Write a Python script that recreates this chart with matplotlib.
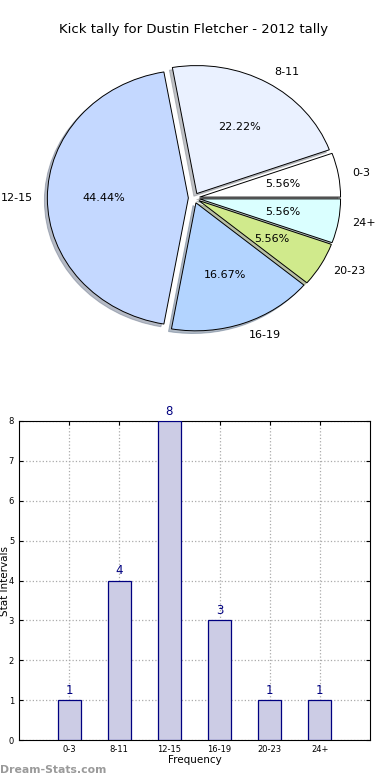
import matplotlib
matplotlib.use("Agg")
import matplotlib.pyplot as plt

#Data
categories = ["0-3", "8-11", "12-15", "16-19", "20-23", "24+"]
counts = [1, 4, 8, 3, 1, 1]
slice_colors = ["#FFFFFF", "#EAF1FF", "#C4D8FF", "#B3D4FF", "#D0EA8C", "#DAFFFF"]
explode = [0.04, 0.04, 0.04, 0.04, 0.04, 0.04]

title = "Kick tally for Dustin Fletcher - 2012 tally"

W, H = 390, 780
fig = plt.figure(figsize=(W / 100, H / 100), dpi=100)

### PIE SEGMENT

#The reference pie is slightly squashed: x radius ~141 px, y radius ~128 px
rx, ry = 141, 128
cx, cy = 194, 198
pie_ax = fig.add_axes([(cx - 1.25 * rx) / W, 1 - (cy + 1.25 * ry) / H, 2.5 * rx / W, 2.5 * ry / H])
pie_ax.pie(
    counts,
    labels=categories,
    colors=slice_colors,
    explode=explode,
    autopct="%.2f%%",
    shadow={"ox": -0.015, "oy": -0.015, "shade": 0.45},
    startangle=0,
    wedgeprops={"edgecolor": "black", "linewidth": 0.7},
    textprops={"fontsize": 8},
)
pie_ax.set_aspect("auto")
pie_ax.set_xlim(-1.25, 1.25)
pie_ax.set_ylim(-1.25, 1.25)

fig.text(194 / W, 1 - 30 / H, title, ha="center", va="center", fontsize=9.5)

### BAR SEGMENT

bar_ax = fig.add_axes([19 / W, 40 / H, 351 / W, 319 / H])
x = list(range(len(categories)))
bar_ax.bar(x, counts, width=0.46, color="#CCCCE5", edgecolor="#000080", linewidth=0.9, zorder=3)

for xi, c in zip(x, counts):
    bar_ax.text(xi, c + 0.08, str(c), ha="center", va="bottom", color="#000080", fontsize=8.5)

bar_ax.set_xlim(-1, 6)
bar_ax.set_ylim(0, 8)
bar_ax.set_xticks(x)
bar_ax.set_xticklabels(categories)
bar_ax.set_yticks(range(9))
bar_ax.tick_params(axis="both", labelsize=6, direction="in", top=True, right=True, length=3)
bar_ax.grid(True, linestyle=":", color="#AAAAAA", linewidth=0.9, zorder=0)
bar_ax.set_xlabel("Frequency", fontsize=7.5, labelpad=1)
bar_ax.set_ylabel("Stat Intervals", fontsize=7.5, labelpad=0)
bar_ax.yaxis.set_label_coords(-0.025, 0.5)

#Watermark
fig.text(0, 1 - 770 / H, "Dream-Stats.com", ha="left", va="center",
         fontsize=7.8, color="#9A9A9A", fontweight="bold")

fig.savefig("out.png", dpi=100)
